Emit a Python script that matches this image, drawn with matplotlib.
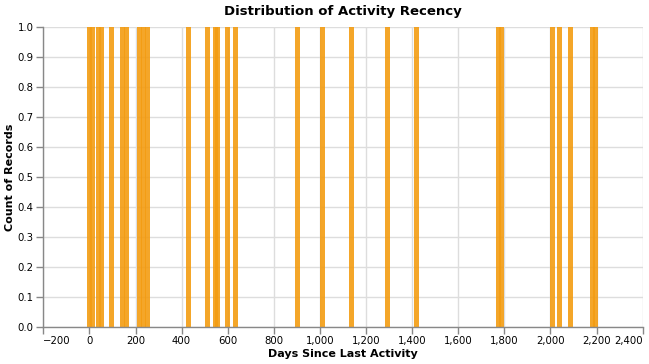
import matplotlib
matplotlib.use("Agg")
import matplotlib.pyplot as plt
from matplotlib.ticker import FuncFormatter

# Data: days since last activity (each record has count 1)
days = [0, 14, 40, 52, 95, 144, 160, 216, 233, 252, 430, 514, 547, 556,
        600, 634, 903, 1010, 1138, 1293, 1419, 1773, 1788, 2009, 2039,
        2087, 2184, 2194]
counts = [1] * len(days)

x_ticks = list(range(-200, 2401, 200))
y_ticks = [i / 10 for i in range(0, 11)]

W, H = 649, 364
fig = plt.figure(figsize=(W / 100, H / 100), dpi=100)
left, right = 43.3 / W, 642.7 / W
bottom, top = 1 - 326.7 / H, 1 - 27.3 / H
ax = fig.add_axes([left, bottom, right - left, top - bottom])

xmin, xmax = -200, 2400
ax_px = (right - left) * W
bar_w = 5 * (xmax - xmin) / ax_px

ax.set_axisbelow(True)
ax.grid(True, color="#dddddd", linewidth=1)
ax.bar(days, counts, width=bar_w, color="#f39c12", alpha=0.9, linewidth=0)

ax.set_xlim(xmin, xmax)
ax.set_ylim(0, 1)
ax.set_xticks(x_ticks)
ax.set_yticks(y_ticks)
ax.xaxis.set_major_formatter(FuncFormatter(lambda v, p: f"{int(v):,}".replace("-", "\u2212")))
ax.yaxis.set_major_formatter(FuncFormatter(lambda v, p: f"{v:.1f}"))

for s in ["top", "right"]:
    ax.spines[s].set_visible(False)
for s in ["left", "bottom"]:
    ax.spines[s].set_color("#888888")
    ax.spines[s].set_linewidth(1)
ax.tick_params(axis="both", colors="#888888", length=5, width=1, labelsize=7.3,
               labelcolor="black", pad=2)

# Flush first/last x labels like Vega-Lite
xlabels = ax.get_xticklabels()
xlabels[0].set_horizontalalignment("left")
xlabels[-1].set_horizontalalignment("right")

ax.set_xlabel("Days Since Last Activity", fontsize=8, fontweight="bold", labelpad=2)
ax.set_ylabel("Count of Records", fontsize=8, fontweight="bold", labelpad=2)
ax.set_title("Distribution of Activity Recency", fontsize=9.5, fontweight="bold", pad=9)

fig.savefig("out.png", dpi=100)
